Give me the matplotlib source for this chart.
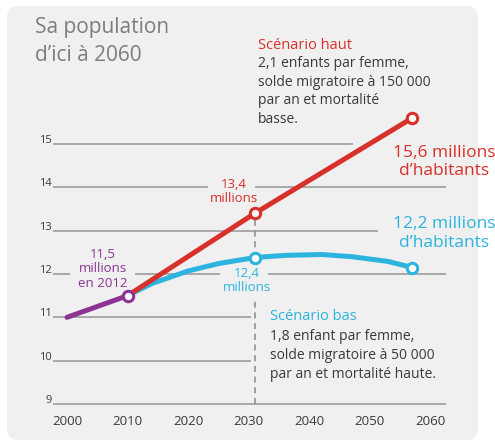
import matplotlib.pyplot as plt
from matplotlib.patches import FancyBboxPatch

# ================================
# DATA
# ================================
hist_years = [2000, 2010]
hist_pop = [11.0, 11.5]

haut_years = [2010, 2031, 2057]
haut_pop = [11.5, 13.4, 15.6]

bas_years = [2010, 2014, 2020, 2025, 2031, 2036, 2042, 2047, 2053, 2057]
bas_pop = [11.5, 11.78, 12.07, 12.24, 12.38, 12.43, 12.45, 12.4, 12.29, 12.15]

x_ticks = [2000, 2010, 2020, 2030, 2040, 2050, 2060]
y_ticks = [9, 10, 11, 12, 13, 14, 15]

# ================================
# STYLE
# ================================
RED = "#d8302a"
BLUE = "#2cb4df"
PURPLE = "#8d3493"
GRID = "#9c9c9c"
TXT = "#3a3a3a"
TITLE = "#7d7d7d"
BG = "#f0f0f0"

plt.rcParams["font.family"] = ["Open Sans", "DejaVu Sans"]

W, H = 495, 441
fig = plt.figure(figsize=(W / 100, H / 100), dpi=100)
fig.patch.set_facecolor("white")

# rounded grey card behind everything (display pixels)
card = FancyBboxPatch((7, 1), 471, 434, boxstyle="round,pad=0,rounding_size=12",
                      transform=None, facecolor=BG, edgecolor="none", zorder=0)
fig.add_artist(card)

ax = fig.add_axes([0, 0, 1, 1])
ax.patch.set_visible(False)
ax.axis("off")

# pixel -> data scale: 2000 at x=67, 6.057 px per year; 9 at y=404, 43.33 px per unit
px_year = 6.057
px_unit = 43.33
ax.set_xlim(2000 - 67 / px_year, 2000 + (W - 67) / px_year)
ax.set_ylim(9 - (H - 404) / px_unit, 15 + 144 / px_unit)


def fx(x):
    return x / W


def fy(y):
    return 1 - y / H


# grid segments (gaps left for the labels)
x0 = 1997.7
segments = {
    15: [(x0, 2047.2)],
    14: [(x0, 2023.3), (2031.0, 2062.6)],
    13: [(x0, 2051.3)],
    12: [(x0, 2000.5), (2011.2, 2025.3), (2033.2, 2062.6)],
    11: [(x0, 2030.3)],
    10: [(x0, 2030.3)],
    9: [(x0, 2062.6)],
}
for val, segs in segments.items():
    for a, b in segs:
        ax.plot([a, b], [val, val], color=GRID, lw=1.2, zorder=1, solid_capstyle="butt")

for v in y_ticks:
    ax.text(x0 - 0.2, v + 0.02, str(v), ha="right", va="baseline",
            fontsize=8, color=TXT)
for yr in x_ticks:
    ax.text(yr, 8.52, str(yr), ha="center", va="baseline", fontsize=9.5, color=TXT)

# dashed guide at the 2030 points, broken around the "12,4 millions" label
mid = haut_years[1]
dash = dict(color="#8a8a8a", lw=1.1, ls=(0, (4, 3)), zorder=2)
ax.plot([mid, mid], [bas_pop[4], haut_pop[1]], **dash)
ax.plot([mid, mid], [9, 11.4], **dash)

# series
line_kw = dict(lw=3.6, solid_capstyle="round", solid_joinstyle="round")
ax.plot(bas_years, bas_pop, color=BLUE, zorder=3, **line_kw)
ax.plot(haut_years, haut_pop, color=RED, zorder=4, **line_kw)
ax.plot(hist_years, hist_pop, color=PURPLE, zorder=5, **line_kw)

mk = dict(marker="o", markersize=7.5, markerfacecolor="white", markeredgewidth=2.2, ls="none")
ax.plot([bas_years[4], bas_years[-1]], [bas_pop[4], bas_pop[-1]],
        markeredgecolor=BLUE, zorder=6, **mk)
ax.plot(haut_years[1:], haut_pop[1:], markeredgecolor=RED, zorder=6, **mk)
ax.plot(hist_years[1:], hist_pop[1:], markeredgecolor=PURPLE, zorder=7, **mk)

# title
ax.text(fx(35), fy(33), "Sa population", transform=ax.transAxes,
        fontsize=15, color=TITLE, va="baseline")
ax.text(fx(35), fy(61), "d\u2019ici à 2060", transform=ax.transAxes,
        fontsize=15, color=TITLE, va="baseline")

# scenario haut
ax.text(fx(258), fy(49), "Scénario haut", transform=ax.transAxes,
        fontsize=10.5, color=RED, va="baseline")
haut_lines = ["2,1 enfants par femme,", "solde migratoire à 150 000",
              "par an et mortalité", "basse."]
for i, line in enumerate(haut_lines):
    ax.text(fx(258), fy(67 + 18.7 * i), line, transform=ax.transAxes,
            fontsize=10, color=TXT, va="baseline")

# scenario bas
ax.text(fx(270), fy(320), "Scénario bas", transform=ax.transAxes,
        fontsize=10.5, color=BLUE, va="baseline")
bas_lines = ["1,8 enfant par femme,", "solde migratoire à 50 000",
             "par an et mortalité haute."]
for i, line in enumerate(bas_lines):
    ax.text(fx(270), fy(340 + 19 * i), line, transform=ax.transAxes,
            fontsize=10, color=TXT, va="baseline")

# end labels
ax.text(fx(444), fy(157), "15,6 millions", transform=ax.transAxes,
        fontsize=12.5, color=RED, va="baseline", ha="center")
ax.text(fx(444), fy(175), "d\u2019habitants", transform=ax.transAxes,
        fontsize=12.5, color=RED, va="baseline", ha="center")
ax.text(fx(444), fy(228), "12,2 millions", transform=ax.transAxes,
        fontsize=12.5, color=BLUE, va="baseline", ha="center")
ax.text(fx(444), fy(247), "d\u2019habitants", transform=ax.transAxes,
        fontsize=12.5, color=BLUE, va="baseline", ha="center")

# point labels
ax.text(fx(234), fy(188), "13,4", transform=ax.transAxes,
        fontsize=9.5, color=RED, va="baseline", ha="center")
ax.text(fx(234), fy(202), "millions", transform=ax.transAxes,
        fontsize=9.5, color=RED, va="baseline", ha="center")
ax.text(fx(247), fy(277), "12,4", transform=ax.transAxes,
        fontsize=9.5, color=BLUE, va="baseline", ha="center")
ax.text(fx(247), fy(291), "millions", transform=ax.transAxes,
        fontsize=9.5, color=BLUE, va="baseline", ha="center")
for i, line in enumerate(["11,5", "millions", "en 2012"]):
    ax.text(fx(103), fy(258 + 14.5 * i), line, transform=ax.transAxes,
            fontsize=9.5, color=PURPLE, va="baseline", ha="center")

fig.savefig("out.png", dpi=100)
